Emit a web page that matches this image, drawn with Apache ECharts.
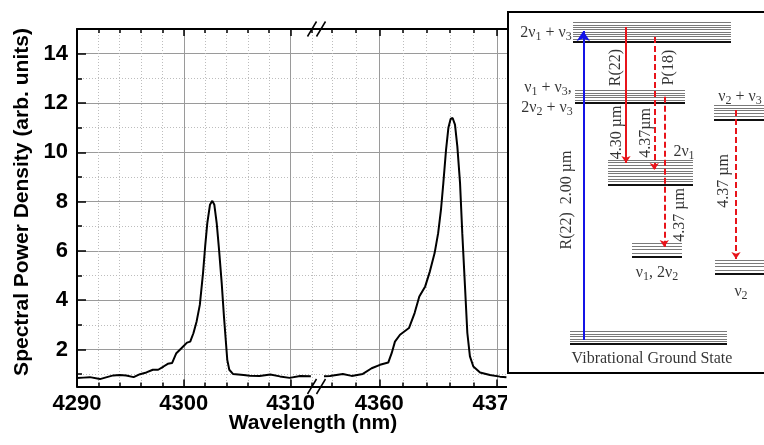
<!DOCTYPE html>
<html>
<head>
<meta charset="utf-8">
<title>Spectral power density</title>
<script src="https://cdn.jsdelivr.net/npm/echarts@6/dist/echarts.min.js"></script>
<style>
  html, body { margin: 0; padding: 0; background: #fff; }
  #main { width: 764px; height: 445px; }
</style>
</head>
<body>
<div id="main"></div>
<script>
  // spectrum, left part of the broken axis (nm, arb. units)
  const wlA = [4290, 4290.6, 4291.2, 4292.15, 4292.8, 4293.4, 4294.0, 4294.6, 4295.3, 4295.9,
    4296.5, 4297.1, 4297.6, 4298.1, 4298.5, 4298.9, 4299.3, 4299.8, 4300.3, 4300.6,
    4300.9, 4301.2, 4301.5, 4301.8, 4302.0, 4302.2, 4302.45, 4302.67, 4302.86, 4303.08,
    4303.3, 4303.55, 4303.76, 4303.95, 4304.07, 4304.26, 4304.6, 4305.6, 4306.2, 4307.1,
    4308.1, 4309.0, 4309.9, 4310.9, 4311.9];
  const pwA = [0.84, 0.86, 0.88, 0.80, 0.88, 0.95, 0.97, 0.95, 0.88, 1.0,
    1.07, 1.18, 1.18, 1.31, 1.42, 1.45, 1.85, 2.06, 2.28, 2.32,
    2.66, 3.14, 3.81, 5.1, 6.18, 7.13, 7.87, 8.03, 7.87, 7.13,
    6.05, 4.69, 3.34, 2.26, 1.58, 1.18, 1.01, 0.97, 0.94, 0.93,
    0.99, 0.91, 0.85, 0.93, 0.92];

  // right part
  const wlB = [4355.3, 4355.8, 4356.9, 4357.65, 4358.6, 4359.35, 4360.06, 4360.76, 4361.05, 4361.33,
    4361.76, 4362.52, 4363.0, 4363.4, 4363.9, 4364.3, 4364.7, 4365.0, 4365.24, 4365.44,
    4365.67, 4365.87, 4366.06, 4366.23, 4366.43, 4366.63, 4366.86, 4367.05, 4367.28, 4367.48,
    4367.7, 4367.99, 4368.56, 4369.4, 4370.25, 4370.8];
  const pwB = [0.92, 0.93, 1.01, 0.93, 1.01, 1.24, 1.38, 1.47, 1.85, 2.32,
    2.6, 2.87, 3.48, 4.15, 4.56, 5.17, 5.91, 6.72, 7.67, 8.75,
    10.1, 10.99, 11.35, 11.39, 11.12, 10.24, 8.75, 6.72, 4.56, 2.67,
    1.72, 1.31, 1.07, 0.97, 0.9, 0.88];

  const yMajor = [2, 4, 6, 8, 10, 12, 14];
  const yMinor = [1, 3, 5, 7, 9, 11, 13];
  const xMajorA = [4290, 4300, 4310];
  const xMinorA = [4292, 4294, 4296, 4298, 4302, 4304, 4306, 4308, 4312];
  const xMajorB = [4360, 4370];
  const xMinorB = [4356, 4358, 4362, 4364, 4366, 4368];

  // inset energy diagram (diagram units)
  // [x start, x end, ground line, top sub-level, number of sub-levels]
  const levels = [
    [65, 223, 331.3, 350.3, 8],   // 2v1 + v3
    [67, 177, 270.3, 282.3, 5],   // v1 + v3, 2v2 + v3
    [206, 262, 253.7, 268, 5],    // v2 + v3
    [100, 185, 188, 213, 9],      // 2v1
    [124, 174, 116.3, 129.7, 4],  // v1, 2v2
    [207, 262, 99, 113, 4],       // v2
    [62, 219, 29, 41.3, 5]        // ground state
  ];
  // [x, from, to, kind]
  const transitions = [
    [75.3, 33, 342, 'pump'],
    [118, 346, 210, 'laser'],
    [146.3, 336, 203, 'dash'],
    [156.3, 276.3, 126, 'dash'],
    [228, 263, 114, 'dash']
  ];
  // [text, x, y, rotation]
  const insetText = [
    ['2ν₁ + ν₃', 38, 340, 0],
    ['ν₁ + ν₃,', 40, 285, 0],
    ['2ν₂ + ν₃', 39, 265, 0],
    ['ν₂ + ν₃', 232, 276, 0],
    ['2ν₁', 176, 221, 0],
    ['ν₁, 2ν₂', 149, 100, 0],
    ['ν₂', 233, 81, 0],
    ['Vibrational Ground State', 144, 14, 0],
    ['R(22)', 108, 305.5, 90],
    ['P(18)', 161, 305.5, 90],
    ['4.30 µm', 109, 240.5, 90],
    ['4.37µm', 138, 240, 90],
    ['4.37 µm', 172, 158, 90],
    ['4.37 µm', 216, 192, 90],
    ['R(22)  2.00 µm', 59, 173, 90]
  ];

  const sans = "'Liberation Sans', Arial, sans-serif";
  const serif = "'Liberation Serif', 'DejaVu Serif', serif";
  const gridTop = 29, gridH = 357.5;
  const breakX = 316;
  const insetLeft = 508, insetTop = 12, insetW = 256, insetH = 361;
  const gridColor = '#9a9a9a';
  const dotColor = '#bdbdbd';
  const plain = v => String(v);
  const subDigits = { '₁': '1', '₂': '2', '₃': '3' };

  function pairs(xs, ys) {
    return xs.map((x, i) => [x, ys[i]]);
  }

  // unicode subscripts -> rich text tokens
  function richSub(s) {
    return s.replace(/[₁₂₃]/g, c => '{s|' + subDigits[c] + '}');
  }

  function xAxesFor(grid, min, max, major, minor) {
    return [
      {
        gridIndex: grid, type: 'value', position: 'bottom', min: min, max: max,
        axisLine: { onZero: false, lineStyle: { color: '#000', width: 2 } },
        axisTick: { inside: true, length: 7, customValues: major, lineStyle: { color: '#000', width: 1.5 } },
        axisLabel: {
          customValues: major, formatter: plain, margin: 6, color: '#000',
          fontSize: 22, fontWeight: 'bold', fontFamily: sans
        },
        splitLine: { show: true, lineStyle: { color: gridColor, width: 1 } }
      },
      {
        gridIndex: grid, type: 'value', position: 'bottom', min: min, max: max,
        axisLine: { show: false, onZero: false },
        axisTick: { inside: true, length: 4, customValues: minor, lineStyle: { color: '#000', width: 1.5 } },
        axisLabel: { show: false },
        splitLine: { show: true, lineStyle: { color: dotColor, width: 1, type: [1, 2] } }
      },
      {
        gridIndex: grid, type: 'value', position: 'top', min: min, max: max,
        axisLine: { onZero: false, lineStyle: { color: '#000', width: 2 } },
        axisTick: { inside: true, length: 7, customValues: major, lineStyle: { color: '#000', width: 1.5 } },
        axisLabel: { show: false },
        splitLine: { show: false }
      },
      {
        gridIndex: grid, type: 'value', position: 'top', min: min, max: max,
        axisLine: { show: false, onZero: false },
        axisTick: { inside: true, length: 4, customValues: minor, lineStyle: { color: '#000', width: 1.5 } },
        axisLabel: { show: false },
        splitLine: { show: false }
      }
    ];
  }

  // level bundles -> line segments
  const levelLines = [];
  levels.forEach(function (lv) {
    const step = (lv[3] - lv[2]) / (lv[4] + 0.2);
    for (let k = 0; k < lv[4]; k++) {
      const e = lv[3] - k * step;
      levelLines.push({ coords: [[lv[0], e], [lv[1], e]], lineStyle: { color: '#7a7a7a', width: 1, opacity: 1 } });
    }
    levelLines.push({ coords: [[lv[0], lv[2]], [lv[1], lv[2]]], lineStyle: { color: '#111', width: 2.2, opacity: 1 } });
  });

  const arrowLines = transitions.map(function (t) {
    const pump = t[3] === 'pump';
    return {
      coords: [[t[0], t[1]], [t[0], t[2]]],
      symbolSize: pump ? 10 : 7,
      lineStyle: {
        color: pump ? '#1414e6' : '#e8141b',
        width: 2,
        opacity: 1,
        type: t[3] === 'dash' ? [6, 3] : 'solid'
      }
    };
  });

  const textData = insetText.map(function (t) {
    return { name: richSub(t[0]), value: [t[1], t[2]], label: { rotate: t[3] } };
  });

  const chart = echarts.init(document.getElementById('main'));

  const slash = (x, y) => ({
    type: 'line', silent: true, z: 20,
    shape: { x1: x - 4.5, y1: y + 7.5, x2: x + 4.5, y2: y - 7.5 },
    style: { stroke: '#000', lineWidth: 1.5 }
  });

  chart.setOption({
    animation: false,
    backgroundColor: '#fff',
    grid: [
      { left: 77, top: gridTop, width: breakX - 77, height: gridH },
      { left: breakX, top: gridTop, width: insetLeft - breakX, height: gridH },
      { left: insetLeft, top: insetTop, width: insetW, height: insetH, show: true, z: 10,
        backgroundColor: '#fff', borderWidth: 0 }
    ],
    xAxis: [].concat(
      xAxesFor(0, 4290, 4290 + (breakX - 77) / 10.68, xMajorA, xMinorA),
      xAxesFor(1, 4360 - (379.3 - breakX) / 11.77, 4360 - (379.3 - insetLeft) / 11.77, xMajorB, xMinorB),
      [{ gridIndex: 2, type: 'value', min: 0, max: insetW, show: false }]
    ),
    yAxis: [
      {
        gridIndex: 0, type: 'value', position: 'left', min: 0.5, max: 15,
        axisLine: { onZero: false, lineStyle: { color: '#000', width: 2 } },
        axisTick: { inside: true, length: 9, customValues: yMajor, lineStyle: { color: '#000', width: 1.5 } },
        axisLabel: {
          customValues: yMajor, formatter: plain, margin: 9, color: '#000',
          fontSize: 22, fontWeight: 'bold', fontFamily: sans
        },
        splitLine: { show: true, lineStyle: { color: gridColor, width: 1 } }
      },
      {
        gridIndex: 0, type: 'value', position: 'left', min: 0.5, max: 15,
        axisLine: { show: false, onZero: false },
        axisTick: { inside: true, length: 5, customValues: yMinor, lineStyle: { color: '#000', width: 1.5 } },
        axisLabel: { show: false },
        splitLine: { show: true, lineStyle: { color: dotColor, width: 1, type: [1, 2] } }
      },
      {
        gridIndex: 1, type: 'value', position: 'left', min: 0.5, max: 15,
        axisLine: { show: false, onZero: false },
        axisTick: { show: false, customValues: yMajor },
        axisLabel: { show: false },
        splitLine: { show: true, lineStyle: { color: gridColor, width: 1 } }
      },
      {
        gridIndex: 1, type: 'value', position: 'left', min: 0.5, max: 15,
        axisLine: { show: false, onZero: false },
        axisTick: { show: false, customValues: yMinor },
        axisLabel: { show: false },
        splitLine: { show: true, lineStyle: { color: dotColor, width: 1, type: [1, 2] } }
      },
      { gridIndex: 2, type: 'value', min: 0, max: insetH, show: false }
    ],
    graphic: [
      {
        type: 'text', silent: true, x: 22, y: 202, rotation: Math.PI / 2,
        style: {
          text: 'Spectral Power Density (arb. units)', x: 0, y: 0,
          textAlign: 'center', textVerticalAlign: 'middle',
          font: 'bold 21px ' + sans, fill: '#000'
        }
      },
      {
        type: 'text', silent: true, x: 313, y: 423,
        style: {
          text: 'Wavelength (nm)', x: 0, y: 0,
          textAlign: 'center', textVerticalAlign: 'middle',
          font: 'bold 21px ' + sans, fill: '#000'
        }
      },
      // the source figure is cropped at the inset edge below the box
      {
        type: 'rect', silent: true, z: 15,
        shape: { x: insetLeft - 1, y: insetTop + insetH + 1, width: 260, height: 75 },
        style: { fill: '#fff' }
      },
      // inset frame, its right side runs off the picture
      {
        type: 'rect', silent: true, z: 16,
        shape: { x: insetLeft, y: insetTop, width: insetW + 20, height: insetH },
        style: { fill: 'none', stroke: '#000', lineWidth: 2 }
      },
      slash(breakX - 4, gridTop), slash(breakX + 5, gridTop),
      slash(breakX - 4, gridTop + gridH), slash(breakX + 5, gridTop + gridH)
    ],
    series: [
      {
        type: 'line', xAxisIndex: 0, yAxisIndex: 0, data: pairs(wlA, pwA),
        symbol: 'none', silent: true, z: 3,
        lineStyle: { color: '#000', width: 2 }
      },
      {
        type: 'line', xAxisIndex: 4, yAxisIndex: 2, data: pairs(wlB, pwB),
        symbol: 'none', silent: true, z: 3,
        lineStyle: { color: '#000', width: 2 }
      },
      {
        type: 'lines', coordinateSystem: 'cartesian2d', xAxisIndex: 8, yAxisIndex: 4,
        data: levelLines, silent: true, z: 12, symbol: 'none',
        lineStyle: { opacity: 1, curveness: 0 }
      },
      {
        type: 'lines', coordinateSystem: 'cartesian2d', xAxisIndex: 8, yAxisIndex: 4,
        data: arrowLines, silent: true, z: 13, symbol: ['none', 'arrow'],
        lineStyle: { opacity: 1, curveness: 0 }
      },
      {
        type: 'scatter', xAxisIndex: 8, yAxisIndex: 4, data: textData,
        symbolSize: 0, silent: true, z: 14,
        label: {
          show: true, position: 'inside', formatter: '{b}', color: '#000',
          fontSize: 16, fontFamily: serif,
          rich: {
            s: { fontSize: 12, fontFamily: serif, color: '#000', padding: [7, 0, 0, 0] }
          }
        }
      }
    ]
  });
</script>
</body>
</html>
